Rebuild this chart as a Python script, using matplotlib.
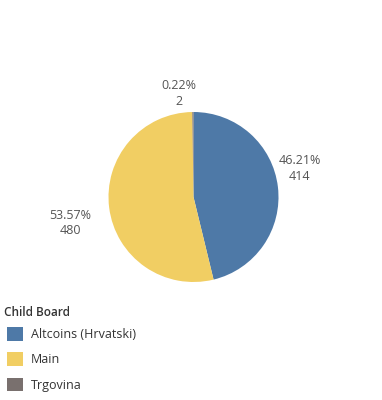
import numpy as np
import matplotlib
matplotlib.use('Agg')
import matplotlib.pyplot as plt
from matplotlib.patches import Patch

plt.rcParams['font.family'] = ['Open Sans', 'DejaVu Sans']

# data
boards = ['Altcoins (Hrvatski)', 'Main', 'Trgovina']
counts = [414, 480, 2]
pcts = ['46.21%', '53.57%', '0.22%']
colors = ['#4e79a7', '#f1ce63', '#79706e']

W, H = 382, 400
fig = plt.figure(figsize=(W / 100, H / 100), dpi=100)
ax = fig.add_axes([0, 0, 1, 1])

cx, cy, r = 193.5, H - 197, 85
ax.pie(counts, colors=colors, startangle=90, counterclock=False,
       center=(cx, cy), radius=r, frame=True, wedgeprops=dict(linewidth=0))
ax.set_xlim(0, W)
ax.set_ylim(0, H)
ax.set_aspect('equal')
ax.axis('off')

# label placement (angle in degrees, distance as multiple of radius)
lab_ang = [15, 192, 98]
lab_dist = [1.29, 1.48, 1.23]
for p, c, a, d in zip(pcts, counts, lab_ang, lab_dist):
    t = np.deg2rad(a)
    ax.text(cx + d * r * np.cos(t), cy + d * r * np.sin(t), f'{p}\n{c}',
            ha='center', va='center', fontsize=9, color='#555555',
            linespacing=1.25)

fig.text(4 / W, 1 - 312 / H, 'Child Board', ha='left', va='center',
         fontsize=8.5, fontweight='semibold', color='#333333')

handles = [Patch(facecolor=c, edgecolor='none') for c in colors]
leg = fig.legend(handles, boards, loc='upper left',
                 bbox_to_anchor=(7 / W, 1 - 327 / H), frameon=False,
                 fontsize=9, handlelength=1.3, handleheight=1.3,
                 handletextpad=0.6, labelspacing=0.9, borderpad=0,
                 borderaxespad=0)
for txt in leg.get_texts():
    txt.set_color('#333333')

fig.savefig('out.png', dpi=100)
